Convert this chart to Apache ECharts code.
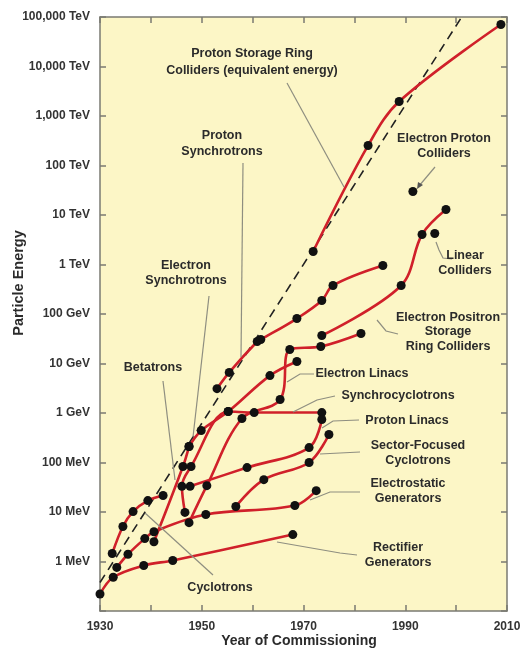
<!DOCTYPE html>
<html>
<head>
<meta charset="utf-8">
<script src="https://cdn.jsdelivr.net/npm/echarts@6/dist/echarts.min.js"></script>
<style>
html, body { margin: 0; padding: 0; background: #fff; }
#main { width: 528px; height: 658px; }
</style>
</head>
<body>
<div id="main"></div>
<script>
// values: [year of commissioning, particle energy in MeV]
var rectifier = [[1930.0, 0.22], [1932.6, 0.48], [1938.6, 0.83], [1944.3, 1.05], [1967.9, 3.5]];
var electrostatic = [[1933.3, 0.76], [1935.5, 1.4], [1938.8, 2.9], [1940.6, 4.0], [1950.8, 8.9], [1968.3, 13.5], [1972.5, 27]];
var cyclotrons = [[1932.4, 1.45], [1934.5, 5.1], [1936.5, 10.2], [1939.4, 17], [1942.4, 21.5]];
var betatrons = [[1940.6, 2.5], [1946.3, 83], [1947.5, 210]];
var electronSynchrotrons = [[1947.5, 210], [1949.9, 443], [1955.2, 1070], [1963.4, 5700], [1968.7, 11000]];
var synchrocyclotrons = [[1946.7, 9.8], [1946.1, 33], [1947.9, 83], [1955.2, 1070], [1960.3, 1020], [1973.6, 1020]];
var electronLinacs = [[1947.5, 6.1], [1951.0, 34], [1957.9, 775], [1965.4, 1870], [1967.3, 19200], [1973.4, 22000], [1981.3, 40400]];
var protonLinacs = [[1947.7, 33], [1958.9, 79], [1971.1, 200], [1973.6, 740]];
var sectorFocused = [[1956.7, 12.9], [1962.2, 45], [1971.1, 100], [1975.0, 368]];
var protonSynchrotrons = [[1953.0, 3100], [1955.4, 6600], [1960.9, 27800], [1961.6, 30500], [1968.7, 81000], [1973.6, 187000], [1975.8, 377000], [1985.6, 955000]];
var eeColliders = [[1973.6, 36800], [1989.2, 377000], [1993.3, 4.04e6], [1998.0, 1.29e7]];
var ppColliders = [[1971.9, 1.83e6], [1982.7, 2.54e8], [1988.8, 1.96e9], [2008.8, 7.05e10]];
var linearColliders = [[1995.8, 4.23e6]];
var epColliders = [[1991.5, 2.98e7]];
var trendLine = [[1930, 0.377], [2001.1, 1e11]];

var xTickLabels = ['1930', '1950', '1970', '1990', '2010'];
var yTickLabels = ['1 MeV', '10 MeV', '100 MeV', '1 GeV', '10 GeV', '100 GeV', '1 TeV', '10 TeV', '100 TeV', '1,000 TeV', '10,000 TeV', '100,000 TeV'];

var FONT = '"Liberation Sans", Arial, Helvetica, sans-serif';
var frameColor = '#7a7a72';
var red = '#d0202a';
var leaderColor = '#8e8e80';
var textColor = '#2b2b2b';

var curves = [
    ['Rectifier Generators', rectifier],
    ['Electrostatic Generators', electrostatic],
    ['Cyclotrons', cyclotrons],
    ['Betatrons', betatrons],
    ['Electron Synchrotrons', electronSynchrotrons],
    ['Synchrocyclotrons', synchrocyclotrons],
    ['Electron Linacs', electronLinacs],
    ['Proton Linacs', protonLinacs],
    ['Sector-Focused Cyclotrons', sectorFocused],
    ['Proton Synchrotrons', protonSynchrotrons],
    ['Electron Positron Storage Ring Colliders', eeColliders],
    ['Proton Storage Ring Colliders', ppColliders]
];

var series = [{
    name: 'trend',
    type: 'line',
    data: trendLine,
    symbol: 'none',
    lineStyle: { color: '#222', width: 1.6, type: [9, 6] },
    z: 1
}];
curves.forEach(function(c) {
    series.push({
        name: c[0],
        type: 'line',
        data: c[1],
        smooth: 0.35,
        symbol: 'circle',
        symbolSize: 9,
        showAllSymbol: true,
        lineStyle: { color: red, width: 2.6 },
        itemStyle: { color: '#111', opacity: 1 },
        z: 3
    });
});
[['Linear Colliders', linearColliders], ['Electron Proton Colliders', epColliders]].forEach(function(c) {
    series.push({
        name: c[0],
        type: 'scatter',
        data: c[1],
        symbol: 'circle',
        symbolSize: 9,
        itemStyle: { color: '#111', opacity: 1 },
        z: 4
    });
});

// annotation texts and their leader lines (layout, in pixels)
var labels = [
    ['Proton Storage Ring\nColliders (equivalent energy)', 252, 62, 17],
    ['Proton\nSynchrotrons', 222, 144, 16],
    ['Electron Proton\nColliders', 444, 146, 15],
    ['Electron\nSynchrotrons', 186, 273, 15],
    ['Linear\nColliders', 465, 263, 15],
    ['Electron Positron\nStorage\nRing Colliders', 448, 332, 14.5],
    ['Betatrons', 153, 368, 15],
    ['Electron Linacs', 362, 374, 15],
    ['Synchrocyclotrons', 398, 396, 15],
    ['Proton Linacs', 407, 421, 15],
    ['Sector-Focused\nCyclotrons', 418, 453, 14.5],
    ['Electrostatic\nGenerators', 408, 491, 14.5],
    ['Rectifier\nGenerators', 398, 555, 14.5],
    ['Cyclotrons', 220, 588, 15]
];
var leaders = [
    [[287, 83], [344, 187]],
    [[243, 163], [241, 357]],
    [[435, 167], [419, 186]],
    [[452, 259], [443, 258], [439, 250], [436, 242]],
    [[377, 320], [386, 331], [398, 334]],
    [[209, 296], [193, 437]],
    [[163, 381], [175, 480]],
    [[287, 382], [300, 374], [314, 374]],
    [[293, 412], [317, 400], [335, 396]],
    [[322, 428], [333, 421], [359, 420]],
    [[320, 454], [360, 452]],
    [[310, 500], [330, 492], [360, 492]],
    [[277, 542], [340, 553], [357, 555]],
    [[145, 513], [213, 575]]
];

var graphic = [];
leaders.forEach(function(p) {
    graphic.push({
        type: 'polyline', silent: true, z: 5,
        shape: { points: p },
        style: { stroke: leaderColor, lineWidth: 1.2, fill: null }
    });
});
graphic.push({
    type: 'polygon', silent: true, z: 5,
    shape: { points: [[417, 189], [418, 182], [423, 185]] },
    style: { fill: '#555' }
});
labels.forEach(function(l) {
    graphic.push({
        type: 'text', silent: true, z: 6,
        x: l[1], y: l[2],
        style: {
            text: l[0], align: 'center', verticalAlign: 'middle',
            lineHeight: l[3], fill: textColor,
            font: 'bold 12.5px ' + FONT
        }
    });
});
graphic.push({
    type: 'text', silent: true,
    x: 299, y: 641,
    style: { text: 'Year of Commissioning', align: 'center', verticalAlign: 'middle', fill: textColor, font: 'bold 14px ' + FONT }
});
graphic.push({
    type: 'text', silent: true,
    x: 19, y: 283, rotation: Math.PI / 2,
    style: { text: 'Particle Energy', align: 'center', verticalAlign: 'middle', fill: textColor, font: 'bold 14.5px ' + FONT }
});

var axisLine = { show: true, onZero: false, lineStyle: { color: frameColor, width: 1.5 } };
var axisTick = { show: true, inside: true, length: 6, interval: 0, lineStyle: { color: frameColor, width: 1.5 } };

var myChart = echarts.init(document.getElementById('main'));
var option = {
    animation: false,
    backgroundColor: '#fff',
    grid: {
        show: true, left: 100, right: 21, top: 17, bottom: 47,
        backgroundColor: '#fcf6c6', borderWidth: 0
    },
    xAxis: [{
        type: 'value', min: 1930, max: 2010, interval: 10, position: 'bottom',
        axisLine: axisLine, axisTick: axisTick, splitLine: { show: false },
        axisLabel: {
            margin: 10, color: '#333', fontWeight: 'bold', fontSize: 12, fontFamily: FONT,
            formatter: function(v) { return xTickLabels.indexOf(String(v)) >= 0 ? String(v) : ''; }
        }
    }, {
        type: 'value', min: 1930, max: 2010, interval: 10, position: 'top',
        axisLine: axisLine, axisTick: axisTick, splitLine: { show: false },
        axisLabel: { show: false }
    }],
    yAxis: [{
        type: 'log', logBase: 10, min: 0.1, max: 1e11, position: 'left',
        splitNumber: 12, interval: 1,
        axisLine: axisLine, axisTick: axisTick, splitLine: { show: false },
        minorTick: { show: false },
        axisLabel: {
            margin: 10, color: '#333', fontWeight: 'bold', fontSize: 12, fontFamily: FONT,
            interval: 0, hideOverlap: false,
            formatter: function(v) {
                var e = Math.round(Math.log10(v));
                return e >= 0 && e < yTickLabels.length ? yTickLabels[e] : '';
            }
        }
    }, {
        type: 'log', logBase: 10, min: 0.1, max: 1e11, position: 'right',
        splitNumber: 12, interval: 1,
        axisLine: axisLine, axisTick: axisTick, splitLine: { show: false },
        axisLabel: { show: false }
    }],
    graphic: graphic,
    series: series
};
myChart.setOption(option);
</script>
</body>
</html>
